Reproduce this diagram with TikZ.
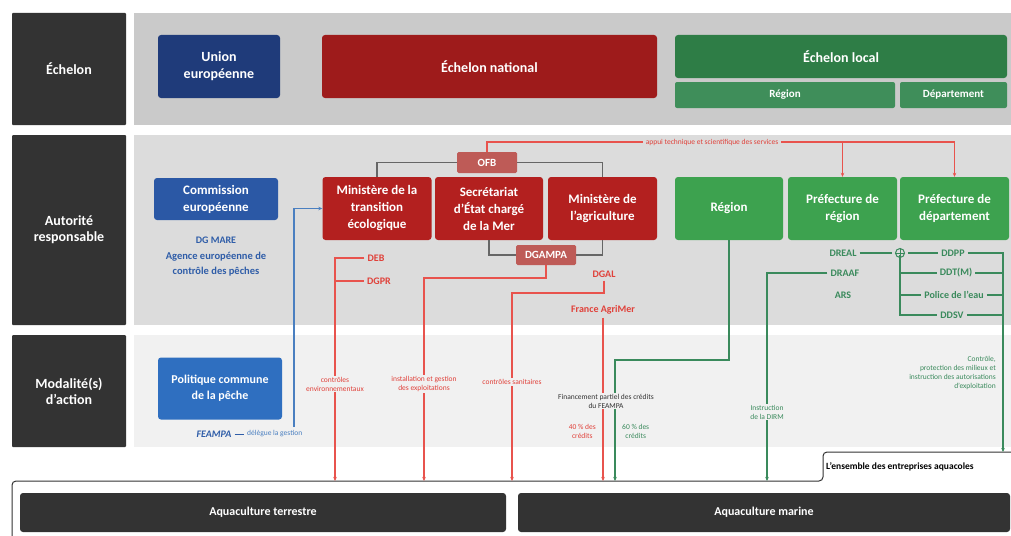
\documentclass[tikz,border=0pt]{standalone}
\usepackage{fontspec}
\setmainfont{Carlito}
\usetikzlibrary{arrows.meta}
\definecolor{darkbox}{HTML}{333333}
\definecolor{panelA}{HTML}{CACACA}
\definecolor{panelB}{HTML}{DCDCDC}
\definecolor{panelC}{HTML}{F1F1F1}
\definecolor{euBlue}{HTML}{1F3B7A}
\definecolor{ceBlue}{HTML}{2B58A5}
\definecolor{pcpBlue}{HTML}{2F6FC0}
\definecolor{lineBlue}{HTML}{4A7FC0}
\definecolor{txtBlue}{HTML}{2F5DA8}
\definecolor{natRed}{HTML}{9E1B1B}
\definecolor{minRed}{HTML}{B3201F}
\definecolor{ofbRed}{HTML}{BE5B57}
\definecolor{txtRed}{HTML}{E0413A}
\definecolor{lineRed}{HTML}{E8534D}
\definecolor{locGreen}{HTML}{2E7D46}
\definecolor{subGreen}{HTML}{3F8E5A}
\definecolor{regGreen}{HTML}{3DA24F}
\definecolor{txtGreen}{HTML}{3A8A5C}
\definecolor{lineGray}{HTML}{666666}
\begin{document}
\begin{tikzpicture}[x=1pt,y=-1pt,
  hdr/.style={fill=darkbox, text=white, font=\bfseries\fontsize{14}{16}\selectfont, align=center, inner sep=0pt, rounded corners=1pt},
  blk/.style={rounded corners=3pt, text=white, font=\bfseries\fontsize{13}{17}\selectfont, align=center, inner sep=0pt},
  sm/.style={font=\fontsize{7.5}{9}\selectfont, align=center, inner sep=1pt},
  mid/.style={font=\bfseries\fontsize{10}{12}\selectfont, inner sep=3pt, align=center},
  rl/.style={draw=lineRed, line width=1.4pt},
  gl/.style={draw=txtGreen, line width=1.1pt},
  gline/.style={draw=lineGray, line width=1.2pt},
  arr/.style={-{Stealth[length=4pt,width=3.5pt]}}
]
\useasboundingbox (0,0) rectangle (1011,535);
\fill[white] (0,0) rectangle (1011,535);
% panels
\fill[panelA] (134,13) rectangle (1011,125);
\fill[panelB] (134,135) rectangle (1011,325);
\fill[panelC] (134,335) rectangle (1011,447);
% row headers
\node[hdr, minimum width=114, minimum height=112] (ech) at (69,69) {Échelon};
\node[hdr, minimum width=114, minimum height=190] (aut) at (69,230) {Autorité\\responsable};
\node[hdr, minimum width=114, minimum height=112] (mod) at (69,391) {Modalité(s)\\d'action};
% row 1
\node[blk, fill=euBlue, minimum width=122, minimum height=63, font=\bfseries\fontsize{14}{17}\selectfont] (ue) at (219,66.5) {Union\\européenne};
\node[blk, fill=natRed, minimum width=335, minimum height=63, font=\bfseries\fontsize{14}{17}\selectfont] (nat) at (489.5,66.5) {Échelon national};
\node[blk, fill=locGreen, minimum width=332, minimum height=43, font=\bfseries\fontsize{14}{17}\selectfont] (loc) at (841,56.5) {Échelon local};
\node[blk, fill=subGreen, minimum width=220, minimum height=26, rounded corners=2pt, font=\bfseries\fontsize{11}{13}\selectfont] (reg0) at (785,95) {Région};
\node[blk, fill=subGreen, minimum width=107, minimum height=26, rounded corners=2pt, font=\bfseries\fontsize{11}{13}\selectfont] (dep0) at (953.5,95) {Département};
% row 2 boxes
\node[blk, fill=ceBlue, minimum width=124, minimum height=42] (ce) at (216,199) {Commission\\européenne};
\node[mid, text=txtBlue, font=\bfseries\fontsize{10}{12}\selectfont] (dgmare) at (216,240) {DG MARE};
\node[mid, text=txtBlue, font=\bfseries\fontsize{10.5}{15}\selectfont] (agence) at (216,264) {Agence européenne de\\contrôle des pêches};
\node[blk, fill=ofbRed, minimum width=60, minimum height=21, rounded corners=1.5pt, font=\bfseries\fontsize{11}{13}\selectfont] (ofb) at (487,162.5) {OFB};
\node[blk, fill=minRed, minimum width=109, minimum height=63] (mte) at (377,208.5) {Ministère de la\\transition\\écologique};
\node[blk, fill=minRed, minimum width=108, minimum height=63] (sem) at (489,208.5) {Secrétariat\\d'État chargé\\de la Mer};
\node[blk, fill=minRed, minimum width=109, minimum height=63] (magr) at (602.5,208.5) {Ministère de\\l'agriculture};
\node[blk, fill=ofbRed, minimum width=60, minimum height=20, rounded corners=1.5pt, font=\bfseries\fontsize{11}{13}\selectfont] (dgampa) at (546,255) {DGAMPA};
\node[blk, fill=regGreen, minimum width=108, minimum height=63] (regB) at (729,208.5) {Région};
\node[blk, fill=regGreen, minimum width=109, minimum height=63] (prr) at (842.5,208.5) {Préfecture de\\région};
\node[blk, fill=regGreen, minimum width=109, minimum height=63] (prd) at (954.5,208.5) {Préfecture de\\département};
% red labels
\node[mid, text=txtRed] (deb) at (376,258) {DEB};
\node[mid, text=txtRed] (dgpr) at (379,281) {DGPR};
\node[mid, text=txtRed] (dgal) at (604,274) {DGAL};
\node[mid, text=txtRed] (fam) at (603,310) {France AgriMer};
% green labels
\node[mid, text=txtGreen] (dreal) at (843,253) {DREAL};
\node[circle, draw=txtGreen, line width=1pt, minimum size=9pt, inner sep=0pt] (plus) at (900,253) {};
\draw[txtGreen, line width=0.8pt] (plus.north) -- (plus.south) (plus.west) -- (plus.east);
\node[mid, text=txtGreen] (ddpp) at (953,253) {DDPP};
\node[mid, text=txtGreen] (draaf) at (845,273) {DRAAF};
\node[mid, text=txtGreen] (ars) at (843,295) {ARS};
\node[mid, text=txtGreen] (ddtm) at (956,273) {DDT(M)};
\node[mid, text=txtGreen] (police) at (954,295) {Police de l'eau};
\node[mid, text=txtGreen] (ddsv) at (952,315) {DDSV};
% row 3
\node[blk, fill=pcpBlue, minimum width=124, minimum height=62, font=\bfseries\fontsize{12}{16}\selectfont] (pcp) at (220,388.5) {Politique commune\\de la pêche};
\node[mid, text=txtBlue, inner sep=1pt, font=\bfseries\itshape\fontsize{10}{12}\selectfont] (feampa) at (214,434) {FEAMPA};
\node[sm, text=lineBlue, anchor=west] (delegue) at (246,434) {délègue la gestion};
% bottom
\draw[darkbox, line width=1pt, rounded corners=4pt] (12,540) -- (12,481) -- (823,481) -- (823,452) -- (1015,452);
\node[anchor=west, inner sep=0pt, font=\fontsize{9.5}{11}\selectfont\bfseries, text=black] (ens) at (826,467) {L'ensemble des entreprises aquacoles};
\node[blk, fill=darkbox, minimum width=486, minimum height=39, font=\bfseries\fontsize{12}{14}\selectfont] (terr) at (263,512.5) {Aquaculture terrestre};
\node[blk, fill=darkbox, minimum width=492, minimum height=39, font=\bfseries\fontsize{12}{14}\selectfont] (mar) at (764,512.5) {Aquaculture marine};
% coordinates
\coordinate (t1) at (335,481);
\coordinate (t2) at (424,481);
\coordinate (t3) at (512,481);
\coordinate (t4) at (603,481);
\coordinate (t5) at (615,481);
\coordinate (t6) at (767,481);
\coordinate (t7) at (1003,452);
\coordinate (j2) at (424,278);
\coordinate (j3) at (512,293);
\coordinate (j5) at (615,360);
\coordinate (bl) at (294,427);
% gray connectors
\draw[gline] (ofb.west) -| (mte.north);
\draw[gline] (ofb.east) -| (magr.north);
\draw[gline] (sem.south) |- (dgampa.west);
\draw[gline] (magr.south) |- (dgampa.east);
% top red
\node[sm, text=txtRed, inner sep=3pt] (appui) at (712,142) {appui technique et scientifique des services};
\coordinate (k1) at (prr.north |- appui.east);
\coordinate (k2) at (prd.north |- appui.east);
\draw[rl] (ofb.north) |- (appui.west);
\draw[rl] (appui.east) -- (k2);
\draw[rl, arr] (k1) -- (prr.north);
\draw[rl, arr] (k2) -- (prd.north);
% red verticals
\draw[rl, arr] (deb.west) -| (t1);
\draw[rl] (dgpr.west) -- (dgpr.west -| t1);
\draw[rl, arr] (dgampa.south) |- (j2) -- (t2);
\draw[rl, arr] (dgal.south) |- (j3) -- (t3);
\draw[draw=lineRed, line width=2.6pt, arr] (fam.south) -- (t4);
% green verticals
\draw[gl, arr] (regB.south) |- (j5) -- (t5);
\draw[gl, arr] (draaf.west) -| (t6);
\draw[gl] (dreal.east) -- ([xshift=-3pt]plus.west);
\draw[gl] ([xshift=3pt]plus.east) -- (ddpp.west);
\draw[gl] ([yshift=3pt]plus.south) |- (ddsv.west);
\draw[gl] (plus.south |- ddtm.west) -- (ddtm.west);
\draw[gl] (plus.south |- police.west) -- (police.west);
\draw[gl, arr] (ddpp.east) -| (t7);
\draw[gl] (ddtm.east) -- (ddtm.east -| t7);
\draw[gl] (police.east) -- (police.east -| t7);
\draw[gl] (ddsv.east) -- (ddsv.east -| t7);
% blue
\draw[draw=lineBlue, line width=1.2pt, arr] (bl) |- (mte.west);
\draw[draw=txtBlue, line width=1pt] ([xshift=2pt]feampa.east) -- ([xshift=-2pt]delegue.west);
% row 3 labels (interrupting lines)
\node[sm, text=txtRed, fill=panelC] (lenv) at (335,384) {contrôles\\environnementaux};
\node[sm, text=txtRed, fill=panelC] (linst) at (424,384) {installation et gestion\\des exploitations};
\node[sm, text=txtRed, fill=panelC] (lsan) at (512,382) {contrôles sanitaires};
\node[sm, text=darkbox, fill=panelC] (lfin) at (606,401) {Financement partiel des crédits\\du FEAMPA};
\node[sm, text=txtRed, anchor=east] (p40) at (597,431) {40 \% des\\crédits};
\node[sm, text=txtGreen, anchor=west] (p60) at (621,431) {60 \% des\\crédits};
\node[sm, text=txtGreen, fill=panelC] (ldirm) at (767,412) {Instruction\\de la DIRM};
\node[sm, text=txtGreen, align=right, anchor=east] (lctrl) at (997,373) {Contrôle,\\protection des milieux et\\instruction des autorisations\\d'exploitation};
\end{tikzpicture}
\end{document}
